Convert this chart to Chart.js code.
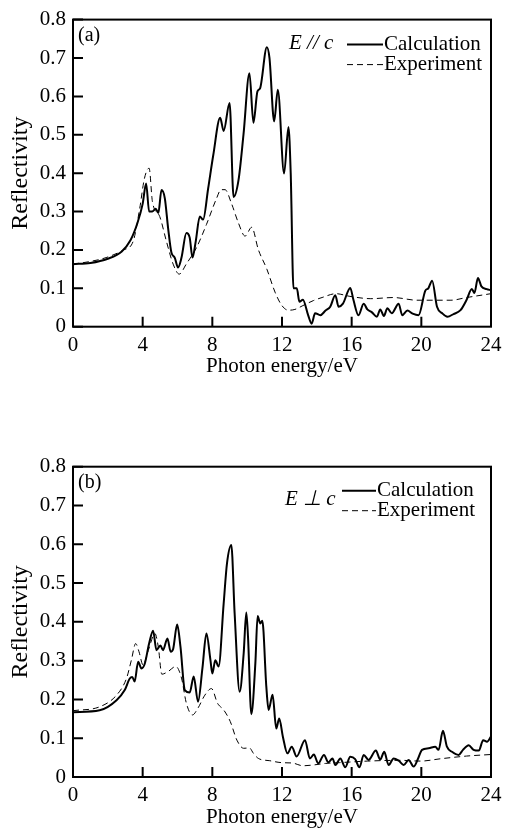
<!DOCTYPE html>
<html>
<head>
<meta charset="utf-8">
<script src="https://cdn.jsdelivr.net/npm/chart.js@4/dist/chart.umd.min.js"></script>
<style>
  body { margin: 0; background: #fff; }
  .panel { position: absolute; left: 0; width: 511px; height: 415px; }
</style>
</head>
<body>
<div class="panel" style="top:0"><canvas id="chartA" width="511" height="415"></canvas></div>
<div class="panel" style="top:416px"><canvas id="chartB" width="511" height="415"></canvas></div>
<script>
// (a) E // c
const calcA_energy = [0, 1, 2, 2.8, 3.3, 3.7, 4.0, 4.2, 4.37, 4.55, 4.75, 4.9, 5.08, 5.27, 5.46, 5.65, 5.84, 6.03, 6.23, 6.51, 6.7, 6.86, 7.05, 7.28, 7.47, 7.76, 8.05, 8.45, 8.65, 8.99, 9.22, 9.5, 9.79, 10.13, 10.36, 10.59, 10.74, 11.13, 11.28, 11.55, 11.76, 12.12, 12.37, 12.5, 12.66, 12.85, 13.0, 13.2, 13.5, 13.7, 13.9, 14.2, 14.5, 14.77, 15.06, 15.25, 15.5, 15.92, 16.1, 16.39, 16.69, 16.9, 17.15, 17.45, 17.64, 17.85, 18.05, 18.3, 18.7, 18.9, 19.2, 19.5, 19.84, 20.23, 20.4, 20.62, 20.9, 21.2, 21.5, 21.85, 22.25, 22.6, 22.9, 23.05, 23.25, 23.45, 23.75, 24]
const calcA_refl = [0.163, 0.166, 0.177, 0.196, 0.225, 0.27, 0.32, 0.373, 0.3, 0.3, 0.307, 0.296, 0.356, 0.335, 0.257, 0.193, 0.18, 0.154, 0.18, 0.244, 0.232, 0.18, 0.223, 0.287, 0.279, 0.36, 0.446, 0.544, 0.51, 0.583, 0.338, 0.381, 0.501, 0.66, 0.531, 0.613, 0.621, 0.728, 0.7, 0.535, 0.617, 0.399, 0.52, 0.4, 0.1, 0.1, 0.065, 0.07, 0.03, 0.008, 0.035, 0.03, 0.042, 0.052, 0.082, 0.052, 0.06, 0.101, 0.07, 0.03, 0.06, 0.045, 0.038, 0.026, 0.045, 0.028, 0.048, 0.035, 0.06, 0.03, 0.042, 0.034, 0.03, 0.094, 0.1, 0.12, 0.052, 0.035, 0.026, 0.033, 0.043, 0.07, 0.098, 0.088, 0.127, 0.105, 0.098, 0.095]
const expA_energy = [0, 1, 1.9, 2.9, 3.45, 3.83, 4.1, 4.37, 4.56, 4.98, 5.36, 5.75, 6.1, 6.5, 7.09, 7.66, 8.24, 8.5, 8.73, 9.1, 9.5, 9.88, 10.26, 10.64, 11.13, 11.6, 11.98, 12.36, 12.74, 13.2, 13.8, 14.3, 15.1, 15.9, 17.1, 18.4, 19.75, 20.7, 21.7, 22.6, 24]
const expA_refl = [0.163, 0.17, 0.18, 0.2, 0.222, 0.308, 0.386, 0.413, 0.326, 0.287, 0.223, 0.163, 0.137, 0.163, 0.206, 0.266, 0.334, 0.357, 0.357, 0.321, 0.27, 0.236, 0.259, 0.201, 0.15, 0.09, 0.056, 0.043, 0.045, 0.055, 0.068, 0.076, 0.086, 0.079, 0.073, 0.076, 0.069, 0.069, 0.069, 0.076, 0.086]

// (b) E ⊥ c
const calcB_energy = [0, 1.53, 2.5, 2.97, 3.26, 3.4, 3.54, 3.74, 3.93, 4.12, 4.37, 4.6, 4.79, 5.02, 5.17, 5.42, 5.61, 5.75, 5.98, 6.17, 6.42, 6.7, 6.93, 7.18, 7.43, 7.66, 7.89, 8.0, 8.17, 8.36, 8.65, 8.84, 9.09, 9.28, 9.57, 9.8, 9.95, 10.05, 10.24, 10.47, 10.6, 10.75, 10.87, 11.1, 11.23, 11.46, 11.67, 11.84, 12.05, 12.31, 12.56, 12.84, 13.32, 13.6, 13.83, 14.08, 14.41, 14.66, 14.9, 15.06, 15.35, 15.63, 15.92, 16.2, 16.45, 16.69, 16.97, 17.39, 17.64, 17.87, 18.12, 18.41, 18.7, 18.99, 19.27, 19.56, 19.79, 20.04, 20.42, 20.8, 20.99, 21.24, 21.47, 21.76, 22.14, 22.39, 22.72, 23.0, 23.3, 23.55, 23.77, 24]
const calcB_refl = [0.167, 0.172, 0.198, 0.224, 0.254, 0.258, 0.246, 0.297, 0.28, 0.292, 0.344, 0.377, 0.327, 0.339, 0.327, 0.357, 0.323, 0.33, 0.393, 0.336, 0.224, 0.218, 0.259, 0.194, 0.28, 0.37, 0.302, 0.267, 0.301, 0.285, 0.447, 0.55, 0.598, 0.422, 0.22, 0.319, 0.424, 0.36, 0.162, 0.293, 0.415, 0.396, 0.403, 0.233, 0.173, 0.212, 0.125, 0.151, 0.104, 0.061, 0.078, 0.053, 0.095, 0.048, 0.058, 0.035, 0.057, 0.038, 0.048, 0.031, 0.048, 0.025, 0.052, 0.046, 0.025, 0.057, 0.044, 0.068, 0.045, 0.065, 0.031, 0.048, 0.042, 0.031, 0.044, 0.027, 0.045, 0.07, 0.074, 0.078, 0.07, 0.119, 0.078, 0.065, 0.057, 0.07, 0.082, 0.07, 0.068, 0.095, 0.091, 0.104]
const expB_energy = [0, 1.53, 2.5, 3.07, 3.35, 3.6, 3.79, 4.02, 4.35, 4.7, 4.9, 5.1, 5.46, 5.9, 6.23, 6.51, 6.86, 7.18, 7.57, 7.95, 8.3, 8.65, 9.03, 9.41, 9.8, 10.13, 10.36, 10.64, 11.3, 11.98, 12.6, 13.2, 13.8, 14.5, 15.3, 16.9, 18.8, 19.95, 21.1, 22.6, 24]
const expB_refl = [0.171, 0.181, 0.211, 0.254, 0.301, 0.344, 0.323, 0.289, 0.33, 0.37, 0.335, 0.265, 0.272, 0.285, 0.255, 0.19, 0.16, 0.178, 0.211, 0.228, 0.19, 0.173, 0.143, 0.095, 0.074, 0.075, 0.061, 0.048, 0.042, 0.037, 0.036, 0.029, 0.031, 0.035, 0.037, 0.041, 0.043, 0.041, 0.047, 0.054, 0.058]

const xTicks = [0, 4, 8, 12, 16, 20, 24]
const yTicks = [0, 0.1, 0.2, 0.3, 0.4, 0.5, 0.6, 0.7, 0.8]
const seriesLabels = ['Calculation', 'Experiment']

const serif = '"Liberation Serif", "Times New Roman", serif'

const toPoints = (xs, ys) => xs.map((x, i) => ({x, y: ys[i]}))

// frame, inward ticks, panel tag and legend
const framePlugin = {
    id: 'frame',
    afterDraw(chart, args, opts) {
        const {ctx, chartArea: {left, top, right, bottom}, scales: {x, y}} = chart
        ctx.save()
        ctx.strokeStyle = '#000'
        ctx.fillStyle = '#000'
        ctx.lineWidth = 2
        ctx.strokeRect(left, top, right - left, bottom - top)
        ctx.beginPath()
        for (const t of x.ticks) {
            const px = x.getPixelForValue(t.value)
            ctx.moveTo(px, bottom)
            ctx.lineTo(px, bottom - 10)
        }
        for (const t of y.ticks) {
            const py = y.getPixelForValue(t.value)
            ctx.moveTo(left, py)
            ctx.lineTo(left + 10, py)
        }
        ctx.stroke()

        ctx.textBaseline = 'middle'
        ctx.font = '20px ' + serif
        ctx.fillText(opts.panel, left + 5, top + 16)

        ctx.font = 'italic 21px ' + serif
        ctx.fillText(opts.polar, opts.polarX, top + opts.polarY)

        ctx.font = '21px ' + serif
        chart.data.datasets.forEach((ds, i) => {
            const ly = top + opts.legendY + i * opts.legendGap
            ctx.beginPath()
            ctx.lineWidth = ds.borderWidth
            ctx.setLineDash(ds.borderDash || [])
            ctx.moveTo(opts.lineX1, ly)
            ctx.lineTo(opts.lineX2, ly)
            ctx.stroke()
            ctx.setLineDash([])
            ctx.fillText(ds.label, opts.lineX2 + 1, ly)
        })
        ctx.restore()
    }
}

const makeChart = (canvasId, calcX, calcY, expX, expY, frame, padTop, padBottom) => {
    new Chart(document.getElementById(canvasId), {
        type: 'line',
        data: {
            datasets: [
                {
                    label: seriesLabels[0],
                    data: toPoints(calcX, calcY),
                    borderColor: '#000',
                    borderWidth: 2,
                    pointRadius: 0,
                    cubicInterpolationMode: 'monotone',
                    fill: false
                },
                {
                    label: seriesLabels[1],
                    data: toPoints(expX, expY),
                    borderColor: '#000',
                    borderWidth: 1,
                    borderDash: [6, 4],
                    pointRadius: 0,
                    cubicInterpolationMode: 'monotone',
                    fill: false
                }
            ]
        },
        options: {
            responsive: false,
            animation: false,
            layout: {padding: {top: padTop, bottom: padBottom, left: 0, right: 20}},
            plugins: {
                legend: {display: false},
                tooltip: {enabled: false},
                frame
            },
            scales: {
                x: {
                    type: 'linear',
                    min: xTicks[0],
                    max: xTicks[xTicks.length - 1],
                    afterBuildTicks: scale => { scale.ticks = xTicks.map(value => ({value})) },
                    afterFit: scale => { scale.height = 52.6 },
                    grid: {display: false, drawTicks: false, tickLength: 0},
                    border: {display: false},
                    ticks: {color: '#000', padding: 6, font: {family: serif, size: 21}, maxRotation: 0},
                    title: {display: true, text: 'Photon energy/eV', color: '#000', padding: 0, font: {family: serif, size: 21}}
                },
                y: {
                    min: yTicks[0],
                    max: yTicks[yTicks.length - 1],
                    afterBuildTicks: scale => { scale.ticks = yTicks.map(value => ({value})) },
                    afterFit: scale => { scale.width = 73 },
                    grid: {display: false, drawTicks: false, tickLength: 0},
                    border: {display: false},
                    ticks: {
                        color: '#000',
                        padding: 7,
                        font: {family: serif, size: 21},
                        callback: v => v === 0 ? '0' : v.toFixed(1)
                    },
                    title: {display: true, text: 'Reflectivity', color: '#000', padding: {top: 6, bottom: 0}, font: {family: serif, size: 24}}
                }
            }
        },
        plugins: [framePlugin]
    })
}

makeChart('chartA', calcA_energy, calcA_refl, expA_energy, expA_refl,
    {panel: '(a)', polar: 'E // c', polarX: 289, polarY: 23.5, lineX1: 347, lineX2: 383, legendY: 25, legendGap: 20}, 15.5, 35.7)
makeChart('chartB', calcB_energy, calcB_refl, expB_energy, expB_refl,
    {panel: '(b)', polar: 'E ⊥ c', polarX: 285, polarY: 33, lineX1: 342, lineX2: 376, legendY: 24, legendGap: 20}, 50.7, 1.4)
</script>
</body>
</html>
